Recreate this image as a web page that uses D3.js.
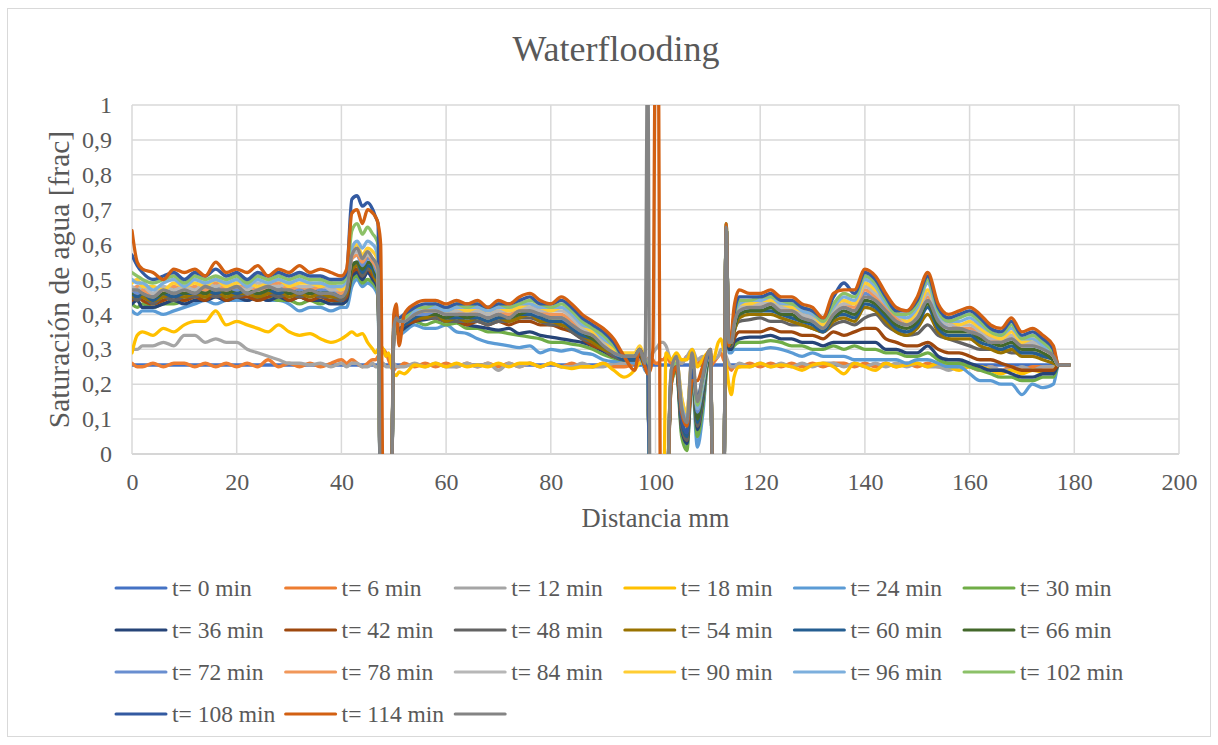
<!DOCTYPE html>
<html>
<head>
<meta charset="utf-8">
<script src="https://cdn.jsdelivr.net/npm/d3@7"></script>
<style>
  body { margin: 0; background: #ffffff; }
  svg { display: block; }
</style>
</head>
<body>
<svg id="chart" width="1218" height="745"></svg>
<script>
// Position along the core (mm)
const distance = [
  0,1,2,4,6,8,10,12,14,16,18,20,22,24,26,28,30,32,34,36,38,40,
  41,42,43,44,45,46,46.5,47,47.5,48,48.5,49,49.5,50,50.5,51,
  52,54,56,58,60,62,64,66,68,70,72,74,76,78,80,82,84,86,88,90,92,94,
  96,97,98,98.5,99,99.5,100,100.5,101,101.5,102,103,104,105,106,107,108,109,110,110.5,111,112,112.5,113,113.5,114,114.5,115,116,
  118,120,122,124,126,128,130,132,134,136,138,140,142,144,146,148,150,152,154,156,158,160,162,164,166,168,170,172,174,176,
  177,179
];

// Water saturation profiles (fraction), one array per scan time
const s0 = [
  0.255,0.255,0.255,0.255,0.255,0.255,0.255,0.255,0.255,0.255,0.255,0.255,0.255,0.255,0.255,0.255,0.255,0.255,0.255,0.255,0.255,0.255,
  0.255,0.255,0.255,0.255,0.255,0.255,0.255,0.255,0.255,0.255,0.255,0.255,0.255,0.255,0.255,0.255,
  0.255,0.255,0.255,0.255,0.255,0.255,0.255,0.255,0.255,0.255,0.255,0.255,0.255,0.255,0.255,0.255,0.255,0.255,0.255,0.255,0.255,0.255,
  0.255,0.255,0.255,0.255,0.255,0.255,0.255,0.255,0.255,0.255,0.255,0.255,0.255,0.255,0.255,0.255,0.255,0.255,0.255,0.255,0.255,0.255,0.255,0.255,0.255,0.255,0.255,0.255,0.255,
  0.255,0.255,0.255,0.255,0.255,0.255,0.255,0.255,0.255,0.255,0.255,0.255,0.255,0.255,0.255,0.255,0.255,0.255,0.255,0.255,0.255,0.255,0.255,0.255,0.255,0.255,0.255,0.255,0.255,0.255,
  0.255,0.255
];
const s6 = [
  0.26,0.25,0.25,0.26,0.25,0.26,0.26,0.25,0.26,0.25,0.26,0.25,0.26,0.25,0.27,0.25,0.26,0.25,0.26,0.25,0.26,0.27,
  0.26,0.27,0.26,0.25,0.26,0.27,0.27,0.28,0.29,0.30,0.29,0.27,0.25,0.24,0.25,0.25,
  0.26,0.25,0.26,0.25,0.26,0.25,0.26,0.25,0.26,0.25,0.26,0.25,0.26,0.25,0.26,0.25,0.26,0.25,0.25,0.26,0.25,0.25,
  0.26,0.27,0.26,0.27,0.28,0.27,0.26,0.26,0.27,0.27,0.28,0.26,0.27,0.26,0.28,0.27,0.26,0.27,0.26,0.25,0.26,0.28,0.29,0.27,0.26,0.25,0.24,0.25,0.25,
  0.26,0.25,0.26,0.25,0.26,0.25,0.26,0.25,0.26,0.26,0.25,0.26,0.25,0.26,0.25,0.26,0.25,0.26,0.25,0.25,0.26,0.25,0.24,0.25,0.24,0.25,0.24,0.25,0.25,0.25,
  0.255,0.255
];
const s12 = [
  0.30,0.30,0.31,0.31,0.32,0.31,0.34,0.34,0.32,0.33,0.32,0.32,0.30,0.29,0.28,0.27,0.26,0.26,0.255,0.26,0.25,0.26,
  0.25,0.26,0.26,0.25,0.25,0.26,0.25,0.25,0.26,0.26,0.25,0.25,0.25,0.26,0.25,0.25,
  0.25,0.26,0.25,0.26,0.25,0.25,0.26,0.25,0.26,0.24,0.26,0.25,0.26,0.25,0.26,0.25,0.25,0.26,0.25,0.25,0.26,0.26,
  0.27,0.28,0.27,0.27,0.28,0.29,0.30,0.31,0.32,0.32,0.31,0.27,0.27,0.26,0.28,0.30,0.27,0.28,0.27,0.26,0.27,0.28,0.30,0.30,0.28,0.26,0.25,0.25,0.26,
  0.25,0.26,0.25,0.26,0.25,0.26,0.25,0.26,0.26,0.25,0.26,0.25,0.26,0.25,0.26,0.25,0.26,0.25,0.25,0.24,0.25,0.25,0.24,0.25,0.24,0.24,0.25,0.24,0.25,0.25,
  0.255,0.255
];
const s18 = [
  0.29,0.34,0.35,0.34,0.36,0.35,0.37,0.38,0.38,0.41,0.37,0.38,0.37,0.36,0.35,0.37,0.35,0.34,0.345,0.33,0.32,0.33,
  0.34,0.35,0.34,0.345,0.32,0.30,0.29,0.30,0.31,0.30,0.28,0.29,0.26,0.23,0.225,0.235,
  0.23,0.255,0.25,0.26,0.25,0.26,0.25,0.255,0.25,0.26,0.25,0.26,0.26,0.25,0.26,0.25,0.245,0.25,0.25,0.26,0.24,0.22,
  0.24,0.26,0.26,0.24,-0.2,-0.2,-0.2,-0.2,-0.2,-0.2,0.29,0.27,0.29,0.27,0.27,0.30,0.25,0.27,0.29,0.28,0.27,0.32,0.33,0.30,0.26,0.20,0.17,0.22,0.25,
  0.25,0.26,0.25,0.255,0.25,0.24,0.255,0.26,0.25,0.23,0.26,0.25,0.24,0.26,0.25,0.255,0.26,0.25,0.26,0.25,0.24,0.25,0.25,0.24,0.23,0.24,0.23,0.24,0.235,0.24,
  0.255,0.255
];
const s24 = [
  0.41,0.40,0.41,0.41,0.40,0.41,0.42,0.43,0.44,0.43,0.44,0.44,0.44,0.45,0.44,0.44,0.43,0.41,0.42,0.42,0.41,0.42,
  0.42,0.48,0.50,0.48,0.49,0.48,0.47,0.45,-0.2,-0.2,-0.2,-0.2,-0.2,0.33,0.35,0.34,
  0.35,0.37,0.36,0.36,0.37,0.35,0.345,0.33,0.32,0.315,0.31,0.305,0.31,0.29,0.30,0.295,0.30,0.29,0.285,0.27,0.265,0.27,
  0.26,0.28,0.24,0.23,-0.2,-0.2,-0.2,-0.2,-0.2,-0.2,-0.2,0.20,0.24,0.06,0.02,0.22,0.02,0.11,0.26,0.27,-0.2,-0.2,-0.2,-0.2,0.64,0.29,0.29,0.30,0.30,
  0.30,0.30,0.305,0.30,0.29,0.28,0.29,0.28,0.28,0.28,0.27,0.27,0.27,0.27,0.27,0.26,0.27,0.27,0.26,0.25,0.25,0.23,0.21,0.21,0.20,0.20,0.17,0.20,0.19,0.20,
  0.255,0.255
];
const s30 = [
  0.43,0.42,0.43,0.42,0.43,0.43,0.44,0.45,0.45,0.46,0.45,0.45,0.46,0.45,0.45,0.44,0.44,0.43,0.44,0.43,0.44,0.43,
  0.44,0.50,0.51,0.49,0.50,0.49,0.48,0.46,-0.2,-0.2,-0.2,-0.2,-0.2,0.34,0.35,0.35,
  0.36,0.38,0.37,0.38,0.37,0.375,0.36,0.36,0.35,0.35,0.345,0.34,0.335,0.33,0.32,0.32,0.315,0.31,0.30,0.285,0.275,0.27,
  0.27,0.28,0.25,0.23,-0.2,-0.2,-0.2,-0.2,-0.2,-0.2,-0.2,0.20,0.24,0.05,0.01,0.23,0.05,0.13,0.26,0.27,-0.2,-0.2,-0.2,-0.2,0.66,0.30,0.30,0.31,0.32,
  0.32,0.32,0.325,0.32,0.31,0.31,0.30,0.30,0.31,0.30,0.31,0.30,0.30,0.29,0.29,0.28,0.28,0.29,0.27,0.26,0.26,0.25,0.24,0.23,0.22,0.22,0.21,0.21,0.22,0.22,
  0.255,0.255
];
const s36 = [
  0.43,0.44,0.42,0.42,0.43,0.44,0.43,0.44,0.44,0.45,0.44,0.45,0.44,0.45,0.44,0.45,0.44,0.45,0.44,0.44,0.43,0.43,
  0.44,0.51,0.52,0.50,0.52,0.50,0.49,0.47,-0.2,-0.2,-0.2,-0.2,-0.2,0.34,0.36,0.35,
  0.36,0.38,0.385,0.39,0.38,0.38,0.37,0.365,0.36,0.355,0.36,0.345,0.35,0.34,0.335,0.33,0.325,0.32,0.31,0.295,0.28,0.27,
  0.27,0.28,0.25,0.23,-0.2,-0.2,-0.2,-0.2,-0.2,-0.2,-0.2,0.21,0.25,0.07,0.03,0.24,0.07,0.15,0.27,0.28,-0.2,-0.2,-0.2,-0.2,0.65,0.30,0.30,0.32,0.33,
  0.335,0.335,0.34,0.33,0.33,0.32,0.32,0.31,0.32,0.32,0.32,0.32,0.32,0.30,0.30,0.29,0.29,0.31,0.28,0.27,0.27,0.26,0.25,0.24,0.24,0.23,0.22,0.22,0.23,0.23,
  0.255,0.255
];
const s42 = [
  0.44,0.45,0.44,0.43,0.44,0.45,0.44,0.45,0.44,0.46,0.44,0.45,0.45,0.44,0.45,0.46,0.44,0.45,0.44,0.45,0.44,0.44,
  0.45,0.52,0.53,0.51,0.53,0.51,0.50,0.48,-0.2,-0.2,-0.2,-0.2,-0.2,0.34,0.36,0.36,
  0.37,0.38,0.39,0.39,0.38,0.38,0.37,0.38,0.37,0.38,0.37,0.38,0.38,0.37,0.37,0.36,0.35,0.33,0.31,0.30,0.28,0.28,
  0.28,0.29,0.25,0.24,-0.2,-0.2,-0.2,-0.2,-0.2,-0.2,-0.2,0.21,0.25,0.08,0.04,0.24,0.08,0.16,0.27,0.28,-0.2,-0.2,-0.2,-0.2,0.65,0.31,0.31,0.33,0.35,
  0.35,0.35,0.36,0.35,0.35,0.34,0.34,0.33,0.35,0.34,0.35,0.36,0.36,0.33,0.32,0.31,0.31,0.32,0.30,0.29,0.29,0.28,0.27,0.27,0.26,0.25,0.24,0.24,0.24,0.24,
  0.255,0.255
];
const s48 = [
  0.45,0.44,0.45,0.43,0.45,0.44,0.45,0.45,0.46,0.45,0.46,0.45,0.46,0.45,0.46,0.45,0.46,0.45,0.46,0.45,0.45,0.44,
  0.46,0.53,0.54,0.51,0.53,0.52,0.50,0.48,-0.2,-0.2,-0.2,-0.2,-0.2,0.34,0.36,0.36,
  0.37,0.39,0.39,0.39,0.38,0.38,0.38,0.38,0.37,0.38,0.38,0.39,0.39,0.38,0.37,0.37,0.35,0.33,0.32,0.30,0.28,0.27,
  0.27,0.29,0.26,0.24,-0.2,-0.2,-0.2,-0.2,-0.2,-0.2,-0.2,0.21,0.25,0.08,0.04,0.24,0.08,0.16,0.27,0.28,-0.2,-0.2,-0.2,-0.2,0.65,0.31,0.31,0.35,0.38,
  0.385,0.39,0.38,0.38,0.37,0.37,0.36,0.35,0.37,0.38,0.37,0.39,0.40,0.37,0.35,0.34,0.345,0.37,0.34,0.33,0.32,0.31,0.30,0.30,0.30,0.29,0.29,0.29,0.28,0.27,
  0.255,0.255
];
const s54 = [
  0.45,0.46,0.45,0.44,0.45,0.46,0.45,0.46,0.45,0.47,0.45,0.46,0.46,0.45,0.46,0.47,0.45,0.46,0.45,0.46,0.45,0.45,
  0.46,0.53,0.54,0.52,0.54,0.52,0.50,0.49,-0.2,-0.2,-0.2,-0.2,-0.2,0.35,0.37,0.36,
  0.37,0.39,0.39,0.40,0.38,0.39,0.38,0.39,0.38,0.39,0.38,0.39,0.40,0.38,0.38,0.37,0.36,0.34,0.32,0.30,0.29,0.28,
  0.28,0.29,0.25,0.24,-0.2,-0.2,-0.2,-0.2,-0.2,-0.2,-0.2,0.22,0.25,0.09,0.05,0.24,0.09,0.17,0.27,0.28,-0.2,-0.2,-0.2,-0.2,0.65,0.31,0.32,0.35,0.39,
  0.40,0.40,0.40,0.39,0.38,0.37,0.36,0.35,0.38,0.39,0.38,0.42,0.41,0.38,0.35,0.34,0.36,0.40,0.35,0.33,0.33,0.33,0.31,0.30,0.29,0.30,0.28,0.28,0.27,0.26,
  0.255,0.255
];
const s60 = [
  0.46,0.45,0.46,0.44,0.46,0.45,0.46,0.46,0.47,0.46,0.47,0.46,0.47,0.46,0.47,0.46,0.47,0.46,0.47,0.46,0.46,0.45,
  0.47,0.54,0.55,0.52,0.54,0.53,0.51,0.50,-0.2,-0.2,-0.2,-0.2,-0.2,0.35,0.37,0.36,
  0.37,0.39,0.40,0.40,0.39,0.39,0.39,0.39,0.38,0.39,0.39,0.40,0.40,0.39,0.38,0.38,0.36,0.34,0.33,0.31,0.29,0.27,
  0.27,0.29,0.26,0.24,-0.2,-0.2,-0.2,-0.2,-0.2,-0.2,-0.2,0.22,0.25,0.09,0.05,0.25,0.09,0.17,0.27,0.28,-0.2,-0.2,-0.2,-0.2,0.65,0.31,0.32,0.36,0.40,
  0.41,0.41,0.41,0.40,0.39,0.38,0.37,0.35,0.39,0.40,0.39,0.43,0.42,0.39,0.36,0.35,0.37,0.42,0.36,0.34,0.34,0.34,0.32,0.31,0.30,0.31,0.29,0.29,0.28,0.27,
  0.255,0.255
];
const s66 = [
  0.46,0.47,0.46,0.45,0.46,0.47,0.46,0.47,0.46,0.48,0.46,0.47,0.47,0.46,0.47,0.48,0.46,0.47,0.46,0.47,0.46,0.46,
  0.47,0.54,0.55,0.53,0.55,0.54,0.52,0.50,-0.2,-0.2,-0.2,-0.2,-0.2,0.35,0.37,0.37,
  0.38,0.40,0.40,0.40,0.39,0.40,0.39,0.40,0.39,0.40,0.39,0.40,0.41,0.40,0.39,0.39,0.37,0.35,0.33,0.31,0.29,0.28,
  0.28,0.29,0.26,0.24,-0.2,-0.2,-0.2,-0.2,-0.2,-0.2,-0.2,0.22,0.25,0.10,0.06,0.25,0.10,0.18,0.27,0.28,-0.2,-0.2,-0.2,-0.2,0.65,0.31,0.32,0.36,0.40,
  0.41,0.41,0.42,0.40,0.40,0.38,0.38,0.36,0.39,0.41,0.40,0.44,0.43,0.40,0.37,0.36,0.38,0.43,0.37,0.35,0.35,0.35,0.33,0.32,0.31,0.32,0.30,0.30,0.29,0.27,
  0.255,0.255
];
const s72 = [
  0.47,0.46,0.47,0.45,0.47,0.46,0.48,0.47,0.48,0.47,0.48,0.47,0.48,0.47,0.48,0.47,0.48,0.47,0.48,0.47,0.47,0.46,
  0.48,0.56,0.57,0.54,0.56,0.55,0.53,0.51,-0.2,-0.2,-0.2,-0.2,-0.2,0.35,0.37,0.37,
  0.38,0.40,0.40,0.41,0.40,0.40,0.40,0.40,0.39,0.40,0.40,0.41,0.41,0.40,0.40,0.39,0.37,0.35,0.34,0.32,0.29,0.28,
  0.28,0.30,0.26,0.24,-0.2,-0.2,-0.2,-0.2,-0.2,-0.2,-0.2,0.23,0.26,0.13,0.09,0.26,0.12,0.19,0.28,0.29,-0.2,-0.2,-0.2,-0.2,0.65,0.32,0.32,0.37,0.41,
  0.42,0.42,0.43,0.41,0.41,0.39,0.38,0.36,0.40,0.42,0.41,0.46,0.44,0.41,0.38,0.37,0.39,0.44,0.39,0.36,0.36,0.36,0.34,0.33,0.32,0.33,0.31,0.31,0.30,0.28,
  0.255,0.255
];
const s78 = [
  0.47,0.48,0.47,0.46,0.47,0.48,0.47,0.48,0.47,0.49,0.47,0.48,0.48,0.47,0.48,0.49,0.47,0.48,0.47,0.48,0.48,0.46,
  0.48,0.56,0.57,0.55,0.57,0.55,0.54,0.52,-0.2,-0.2,-0.2,-0.2,-0.2,0.35,0.38,0.37,
  0.38,0.40,0.41,0.41,0.40,0.41,0.40,0.41,0.40,0.41,0.40,0.41,0.42,0.41,0.40,0.40,0.38,0.36,0.34,0.32,0.30,0.28,
  0.28,0.30,0.26,0.25,-0.2,-0.2,-0.2,-0.2,-0.2,-0.2,-0.2,0.23,0.26,0.15,0.11,0.27,0.13,0.20,0.28,0.29,-0.2,-0.2,-0.2,-0.2,0.65,0.32,0.32,0.37,0.42,
  0.43,0.43,0.43,0.42,0.41,0.40,0.39,0.37,0.41,0.43,0.42,0.47,0.45,0.42,0.39,0.37,0.40,0.45,0.41,0.38,0.36,0.36,0.35,0.33,0.32,0.34,0.31,0.32,0.30,0.28,
  0.255,0.255
];
const s84 = [
  0.48,0.47,0.48,0.46,0.48,0.47,0.48,0.47,0.49,0.48,0.49,0.48,0.47,0.49,0.48,0.48,0.49,0.48,0.48,0.49,0.47,0.47,
  0.49,0.57,0.58,0.56,0.57,0.56,0.55,0.53,-0.2,-0.2,-0.2,-0.2,-0.2,0.36,0.38,0.37,
  0.38,0.41,0.41,0.41,0.40,0.41,0.41,0.41,0.40,0.41,0.41,0.42,0.42,0.41,0.41,0.41,0.39,0.36,0.35,0.32,0.30,0.28,
  0.28,0.30,0.27,0.26,-0.2,-0.2,-0.2,-0.2,-0.2,-0.2,-0.2,0.24,0.27,0.16,0.12,0.28,0.14,0.21,0.28,0.29,-0.2,-0.2,-0.2,-0.2,0.65,0.32,0.33,0.38,0.42,
  0.43,0.43,0.44,0.42,0.42,0.40,0.39,0.37,0.41,0.43,0.43,0.48,0.46,0.43,0.40,0.38,0.40,0.46,0.40,0.37,0.37,0.37,0.35,0.33,0.33,0.34,0.32,0.32,0.30,0.28,
  0.255,0.255
];
const s90 = [
  0.49,0.50,0.48,0.48,0.47,0.49,0.48,0.49,0.48,0.50,0.48,0.49,0.49,0.48,0.49,0.50,0.48,0.49,0.49,0.48,0.49,0.47,
  0.49,0.58,0.60,0.57,0.59,0.58,0.57,0.55,-0.2,-0.2,-0.2,-0.2,-0.2,0.36,0.38,0.38,
  0.39,0.41,0.41,0.42,0.41,0.42,0.41,0.42,0.41,0.42,0.41,0.42,0.43,0.42,0.41,0.42,0.40,0.37,0.35,0.33,0.30,0.29,
  0.29,0.31,0.27,0.25,-0.2,-0.2,-0.2,-0.2,-0.2,-0.2,-0.2,0.24,0.27,0.16,0.12,0.27,0.15,0.21,0.29,0.30,-0.2,-0.2,-0.2,-0.2,0.65,0.32,0.33,0.38,0.43,
  0.43,0.44,0.44,0.43,0.42,0.41,0.40,0.37,0.42,0.44,0.43,0.49,0.47,0.44,0.41,0.38,0.41,0.47,0.41,0.39,0.37,0.38,0.36,0.34,0.33,0.35,0.32,0.33,0.31,0.29,
  0.255,0.255
];
const s96 = [
  0.50,0.49,0.49,0.47,0.49,0.50,0.48,0.50,0.49,0.50,0.49,0.50,0.48,0.50,0.49,0.50,0.49,0.50,0.49,0.49,0.48,0.48,
  0.50,0.59,0.61,0.59,0.61,0.60,0.59,0.56,-0.2,-0.2,-0.2,-0.2,-0.2,0.36,0.39,0.38,
  0.39,0.41,0.42,0.42,0.41,0.42,0.42,0.42,0.41,0.42,0.42,0.43,0.43,0.42,0.42,0.42,0.40,0.37,0.36,0.33,0.31,0.28,
  0.28,0.30,0.26,0.25,-0.2,-0.2,-0.2,-0.2,-0.2,-0.2,-0.2,0.23,0.26,0.14,0.10,0.26,0.13,0.20,0.28,0.29,-0.2,-0.2,-0.2,-0.2,0.65,0.32,0.33,0.39,0.43,
  0.44,0.44,0.45,0.43,0.43,0.41,0.40,0.38,0.42,0.45,0.44,0.50,0.48,0.43,0.40,0.39,0.42,0.49,0.40,0.38,0.38,0.39,0.37,0.35,0.34,0.36,0.33,0.33,0.31,0.29,
  0.255,0.255
];
const s102 = [
  0.52,0.51,0.50,0.49,0.50,0.51,0.49,0.51,0.50,0.51,0.50,0.51,0.49,0.51,0.50,0.51,0.50,0.51,0.50,0.50,0.49,0.49,
  0.51,0.64,0.66,0.63,0.65,0.63,0.62,0.60,-0.2,-0.2,-0.2,-0.2,-0.2,0.37,0.39,0.39,
  0.39,0.42,0.42,0.43,0.42,0.43,0.42,0.43,0.42,0.43,0.42,0.43,0.44,0.43,0.42,0.43,0.41,0.38,0.36,0.34,0.31,0.28,
  0.28,0.30,0.27,0.25,-0.2,-0.2,-0.2,-0.2,-0.2,-0.2,-0.2,0.22,0.26,0.12,0.08,0.25,0.14,0.21,0.28,0.29,-0.2,-0.2,-0.2,-0.2,0.66,0.32,0.33,0.39,0.44,
  0.44,0.45,0.45,0.44,0.43,0.42,0.41,0.38,0.43,0.46,0.45,0.51,0.49,0.44,0.40,0.40,0.43,0.50,0.41,0.38,0.39,0.40,0.38,0.35,0.34,0.37,0.33,0.34,0.32,0.29,
  0.255,0.255
];
const s108 = [
  0.57,0.54,0.52,0.50,0.51,0.52,0.50,0.52,0.51,0.53,0.51,0.52,0.50,0.52,0.51,0.52,0.51,0.52,0.51,0.51,0.50,0.50,
  0.52,0.73,0.74,0.71,0.72,0.70,0.68,0.66,-0.2,-0.2,-0.2,-0.2,-0.2,0.37,0.40,0.39,
  0.40,0.42,0.43,0.43,0.42,0.43,0.43,0.43,0.42,0.43,0.43,0.44,0.45,0.43,0.43,0.44,0.42,0.39,0.37,0.35,0.32,0.28,
  0.28,0.30,0.26,0.24,-0.2,-0.2,-0.2,-0.2,-0.2,-0.2,-0.2,0.22,0.25,0.10,0.06,0.24,0.16,0.22,0.28,0.29,-0.2,-0.2,-0.2,-0.2,0.65,0.32,0.33,0.40,0.45,
  0.45,0.45,0.46,0.44,0.44,0.42,0.41,0.39,0.45,0.49,0.46,0.52,0.50,0.45,0.41,0.41,0.44,0.51,0.42,0.39,0.40,0.41,0.39,0.36,0.35,0.38,0.34,0.35,0.33,0.30,
  0.255,0.255
];
const s114 = [
  0.64,0.55,0.53,0.52,0.50,0.53,0.52,0.53,0.51,0.55,0.52,0.53,0.52,0.54,0.51,0.53,0.52,0.54,0.52,0.53,0.52,0.51,
  0.53,0.69,0.70,0.66,0.70,0.69,0.68,0.66,0.60,-0.2,-0.2,-0.2,-0.2,0.40,0.43,0.31,
  0.40,0.43,0.44,0.44,0.43,0.44,0.43,0.44,0.42,0.44,0.43,0.45,0.46,0.44,0.43,0.45,0.43,0.40,0.38,0.36,0.33,0.28,
  0.24,0.30,0.25,0.23,0.24,0.30,1.2,1.2,-0.2,-0.2,-0.2,0.20,0.25,0.12,0.08,0.21,0.21,0.25,0.29,0.30,-0.2,-0.2,-0.2,-0.2,0.66,0.31,0.34,0.42,0.47,
  0.46,0.46,0.47,0.45,0.45,0.43,0.42,0.39,0.46,0.47,0.47,0.53,0.51,0.46,0.42,0.41,0.45,0.52,0.43,0.40,0.41,0.42,0.40,0.37,0.36,0.39,0.35,0.36,0.34,0.31,
  0.255,0.255
];
const sExtra = [
  0.47,0.47,0.46,0.45,0.47,0.46,0.47,0.46,0.48,0.47,0.47,0.48,0.46,0.47,0.48,0.47,0.47,0.46,0.47,0.46,0.46,0.45,
  0.47,0.57,0.59,0.56,0.58,0.56,0.55,0.53,-0.2,-0.2,-0.2,-0.2,-0.2,0.36,0.39,0.38,
  0.38,0.40,0.41,0.41,0.40,0.40,0.40,0.40,0.39,0.40,0.39,0.41,0.41,0.40,0.39,0.39,0.37,0.35,0.34,0.31,0.29,0.28,
  0.28,0.30,0.26,1.2,-0.2,-0.2,-0.2,-0.2,-0.2,-0.2,-0.2,0.24,0.28,0.13,0.09,0.29,0.15,0.22,0.29,0.30,-0.2,-0.2,-0.2,-0.2,0.65,0.32,0.32,0.37,0.41,
  0.42,0.42,0.43,0.41,0.41,0.39,0.38,0.36,0.40,0.42,0.41,0.45,0.44,0.41,0.38,0.37,0.39,0.44,0.38,0.36,0.36,0.35,0.34,0.32,0.32,0.33,0.31,0.31,0.30,0.28,
  0.255,0.255
];

const seriesLabels = [
  "t= 0 min","t= 6 min","t= 12 min","t= 18 min","t= 24 min","t= 30 min",
  "t= 36 min","t= 42 min","t= 48 min","t= 54 min","t= 60 min","t= 66 min",
  "t= 72 min","t= 78 min","t= 84 min","t= 90 min","t= 96 min","t= 102 min",
  "t= 108 min","t= 114 min",""
];
const seriesColors = [
  "#4472C4","#ED7D31","#A5A5A5","#FFC000","#5B9BD5","#70AD47",
  "#264478","#9E480E","#636363","#997300","#255E91","#43682B",
  "#698ED0","#F1975A","#B7B7B7","#FFCD33","#7CAFDD","#8CC168",
  "#335AA1","#D26012","#848484"
];
const seriesValues = [s0,s6,s12,s18,s24,s30,s36,s42,s48,s54,s60,s66,s72,s78,s84,s90,s96,s102,s108,s114,sExtra];

const xTicks = [0,20,40,60,80,100,120,140,160,180,200];
const yTicks = [0,0.1,0.2,0.3,0.4,0.5,0.6,0.7,0.8,0.9,1];

const FONT = "'Liberation Serif', 'Times New Roman', serif";
const INK = "#595959";
const plot = { left: 132, top: 105, right: 1179, bottom: 454 };
const grid = "#d9d9d9";

const svg = d3.select("#chart");

// chart frame
svg.append("rect")
  .attr("x", 7.5).attr("y", 8.5).attr("width", 1203).attr("height", 728)
  .attr("fill", "#ffffff").attr("stroke", grid).attr("stroke-width", 1);

const x = d3.scaleLinear().domain([0, 200]).range([plot.left, plot.right]);
const y = d3.scaleLinear().domain([0, 1]).range([plot.bottom, plot.top]);

// gridlines
svg.append("g").selectAll("line").data(yTicks).join("line")
  .attr("x1", plot.left).attr("x2", plot.right)
  .attr("y1", d => y(d)).attr("y2", d => y(d))
  .attr("stroke", d => d === 0 ? "#c9c9c9" : grid).attr("stroke-width", 1.5);
svg.append("g").selectAll("line").data(xTicks).join("line")
  .attr("x1", d => x(d)).attr("x2", d => x(d))
  .attr("y1", plot.top).attr("y2", plot.bottom)
  .attr("stroke", grid).attr("stroke-width", 1.5);

// axes (labels only)
const es = d3.formatLocale({ decimal: ",", thousands: ".", grouping: [3], currency: ["", "€"] });
const fmt = es.format("~g");

const xAxis = svg.append("g")
  .attr("transform", `translate(0,${plot.bottom})`)
  .call(d3.axisBottom(x).tickValues(xTicks).tickSize(0).tickPadding(19));
const yAxis = svg.append("g")
  .attr("transform", `translate(${plot.left},0)`)
  .call(d3.axisLeft(y).tickValues(yTicks).tickFormat(fmt).tickSize(0).tickPadding(20));
[xAxis, yAxis].forEach(g => {
  g.attr("font-family", FONT).attr("font-size", 24);
  g.select(".domain").remove();
  g.selectAll("text").attr("fill", INK);
});

// clip the profiles to the plotting area
svg.append("defs").append("clipPath").attr("id", "plotClip")
  .append("rect")
  .attr("x", plot.left).attr("y", plot.top)
  .attr("width", plot.right - plot.left).attr("height", plot.bottom - plot.top);

const line = d3.line()
  .x((d, i) => x(distance[i]))
  .y(d => y(d))
  .curve(d3.curveMonotoneX);

svg.append("g").attr("clip-path", "url(#plotClip)")
  .selectAll("path").data(seriesValues).join("path")
  .attr("d", d => line(d))
  .attr("fill", "none")
  .attr("stroke", (d, i) => seriesColors[i])
  .attr("stroke-width", 3.3)
  .attr("stroke-linejoin", "round")
  .attr("stroke-linecap", "round");

// titles
svg.append("text")
  .attr("x", 616).attr("y", 61)
  .attr("text-anchor", "middle")
  .attr("font-family", FONT).attr("font-size", 36).attr("fill", INK)
  .text("Waterflooding");

svg.append("text")
  .attr("x", (plot.left + plot.right) / 2).attr("y", 527)
  .attr("text-anchor", "middle")
  .attr("font-family", FONT).attr("font-size", 26.5).attr("fill", INK)
  .text("Distancia mm");

svg.append("text")
  .attr("transform", `translate(69,${(plot.top + plot.bottom) / 2}) rotate(-90)`)
  .attr("text-anchor", "middle")
  .attr("font-family", FONT).attr("font-size", 29.5).attr("fill", INK)
  .text("Saturación de agua [frac]");

// legend
const legendCols = 6, colStep = 169.6, legendX = 116, legendY = 588, rowStep = 42;
const legend = svg.append("g").selectAll("g").data(seriesLabels).join("g")
  .attr("transform", (d, i) =>
    `translate(${legendX + (i % legendCols) * colStep},${legendY + Math.floor(i / legendCols) * rowStep})`);
legend.append("line")
  .attr("x1", 0).attr("x2", 50).attr("y1", 0).attr("y2", 0)
  .attr("stroke", (d, i) => seriesColors[i])
  .attr("stroke-width", 3)
  .attr("stroke-linecap", "round");
legend.append("text")
  .attr("x", 56).attr("y", 0).attr("dy", "0.35em")
  .attr("font-family", FONT).attr("font-size", 23.5).attr("fill", INK)
  .text(d => d);
</script>
</body>
</html>
